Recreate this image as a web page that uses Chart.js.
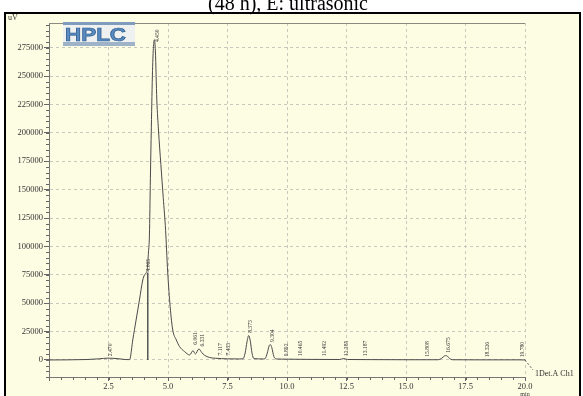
<!DOCTYPE html>
<html>
<head>
<meta charset="utf-8">
<script src="https://cdn.jsdelivr.net/npm/chart.js@4.4.1/dist/chart.umd.min.js"></script>
<style>
  html, body { margin: 0; padding: 0; background: #fff; }
  #wrap { width: 583px; height: 396px; }
</style>
</head>
<body>
<div id="wrap"><canvas id="chart" width="583" height="396"></canvas></div>
<script>
// ---- data (min, uV) ----
const times = [0, 0.8, 1.6, 2.1, 2.47, 2.9, 3.2, 3.36, 3.41, 3.52, 3.66, 3.80, 3.94, 4.01, 4.08, 4.13,
  4.18, 4.22, 4.26, 4.30, 4.35, 4.39, 4.43, 4.47, 4.53, 4.60, 4.70, 4.80, 4.90, 4.94, 4.99, 5.09,
  5.20, 5.35, 5.49, 5.70, 5.91, 6.05, 6.15, 6.30, 6.42, 6.53, 6.74, 7.0, 7.5, 8.0, 8.15, 8.24,
  8.32, 8.39, 8.46, 8.53, 8.61, 9.0, 9.08, 9.17, 9.25, 9.30, 9.36, 9.45, 9.55, 10.0, 11.0, 12.2,
  12.39, 12.55, 13.5, 15.0, 16.35, 16.5, 16.62, 16.70, 16.82, 16.95, 18.0, 19.78, 20.0];
const signal = [0, 100, 400, 1000, 1600, 1100, 400, 300, 1500, 17600, 35200, 52800, 70400, 74800, 76600, 80000,
  95000, 110000, 160000, 205000, 255000, 276000, 282000, 272000, 229000, 202500, 172000, 143000, 114000, 97000, 76600, 47000,
  26400, 17600, 11700, 7300, 4400, 8200, 5300, 9700, 6500, 4200, 2200, 1500, 1000, 900, 1000, 6000,
  16000, 21500, 16500, 6000, 1200, 900, 1200, 6000, 12500, 13500, 11000, 3000, 900, 700, 500, 400,
  1200, 400, 300, 200, 200, 1500, 3600, 3800, 1500, 200, 100, 100, 0];

// peak split (drop) line at the shoulder
const splitTimes = [4.15, 4.15];
const splitValues = [0, 77000];

// axis ticks
const yTicks = [0, 25000, 50000, 75000, 100000, 125000, 150000, 175000, 200000, 225000, 250000, 275000];
const xTicks = [0, 2.5, 5.0, 7.5, 10.0, 12.5, 15.0, 17.5, 20.0];

// retention time labels
const peakTimes = [2.470, 4.065, 4.450, 6.061, 6.331, 7.117, 7.435, 8.373, 9.304, 9.892, 10.465,
  11.492, 12.385, 13.187, 15.808, 16.675, 18.326, 19.780];
const peakNames = ["2.470", "4.065", "4.450", "6.061", "6.331", "7.117", "7.435", "8.373", "9.304", "9.892", "10.465",
  "11.492", "12.385", "13.187", "15.808", "16.675", "18.326", "19.780"];
const peakLabelBase = [2500, 77000, 279000, 12500, 11000, 3000, 3000, 23000, 15000, 2500, 2500,
  2500, 2500, 2500, 2000, 5500, 1500, 1500];

const serif = '"Liberation Serif", "DejaVu Serif", serif';
const cream = "#fdfde4";

const decor = {
  id: "decor",
  beforeDraw(chart) {
    const ctx = chart.ctx;
    ctx.save();
    ctx.fillStyle = "#fff";
    ctx.fillRect(0, 0, 583, 396);
    ctx.fillStyle = cream;
    ctx.fillRect(5, 13, 575, 383);
    // title, top half cut away by the frame
    ctx.fillStyle = "#000";
    ctx.font = "20px " + serif;
    ctx.textAlign = "center";
    ctx.textBaseline = "alphabetic";
    ctx.fillText("(48 h), E: ultrasonic", 288, 10);
    ctx.restore();
  },
  afterDatasetsDraw(chart) {
    const ctx = chart.ctx, xs = chart.scales.x, ys = chart.scales.y, a = chart.chartArea;
    ctx.save();
    // minor ticks
    ctx.strokeStyle = "#666";
    ctx.lineWidth = 1;
    ctx.beginPath();
    for (let v = -15000; v <= 295000; v += 5000) {
      const y = Math.round(ys.getPixelForValue(v)) + 0.5;
      ctx.moveTo(a.left - 3, y); ctx.lineTo(a.left, y);
    }
    for (let t = 0.5; t < 20; t += 0.5) {
      const x = Math.round(xs.getPixelForValue(t)) + 0.5;
      ctx.moveTo(x, a.bottom); ctx.lineTo(x, a.bottom + 3);
    }
    ctx.stroke();
    // retention time labels
    ctx.fillStyle = "#333";
    ctx.font = "7px " + serif;
    ctx.textAlign = "left";
    ctx.textBaseline = "middle";
    peakTimes.forEach((t, i) => {
      const x = xs.getPixelForValue(t) + 2;
      const y = ys.getPixelForValue(peakLabelBase[i]) - 1;
      ctx.save();
      ctx.translate(x, y);
      ctx.rotate(-Math.PI / 2);
      ctx.scale(0.8, 1);
      ctx.fillText(peakNames[i], 0, 0);
      ctx.restore();
    });
    ctx.restore();
  },
  afterDraw(chart) {
    const ctx = chart.ctx, xs = chart.scales.x, ys = chart.scales.y, a = chart.chartArea;
    ctx.save();
    // top edge of plot
    ctx.strokeStyle = "#8a8a80";
    ctx.lineWidth = 1;
    ctx.beginPath();
    ctx.moveTo(a.left, a.top + 0.5); ctx.lineTo(a.right, a.top + 0.5);
    ctx.stroke();
    // outer black frame
    ctx.strokeStyle = "#000";
    ctx.lineWidth = 2;
    ctx.strokeRect(5, 13, 575, 390);
    // axis unit
    ctx.fillStyle = "#333";
    ctx.font = "8px " + serif;
    ctx.textAlign = "left";
    ctx.textBaseline = "middle";
    ctx.fillText("uV", 8, 18);
    // min unit
    ctx.font = "6px " + serif;
    ctx.textAlign = "center";
    ctx.fillText("min", xs.getPixelForValue(20), 394);
    // detector legend with dashed leader
    const x0 = xs.getPixelForValue(20), y0 = ys.getPixelForValue(0);
    ctx.strokeStyle = "#555";
    ctx.lineWidth = 1;
    ctx.setLineDash([2, 2]);
    ctx.beginPath();
    ctx.moveTo(x0, y0); ctx.lineTo(x0 + 8, y0 + 10);
    ctx.stroke();
    ctx.setLineDash([]);
    ctx.font = "8px " + serif;
    ctx.textAlign = "left";
    ctx.fillText("1Det.A Ch1", x0 + 10, y0 + 14);
    // HPLC logo
    ctx.fillStyle = "#eef1f0";
    ctx.fillRect(63, 22, 72, 24);
    ctx.fillStyle = "#7f9cbd";
    ctx.fillRect(63, 22, 72, 3);
    ctx.fillStyle = "#9fb3c8";
    ctx.fillRect(63, 42, 72, 4);
    ctx.save();
    ctx.translate(65, 41);
    ctx.scale(1.18, 1);
    ctx.font = "bold 19px \"Liberation Sans\", Arial, sans-serif";
    ctx.textAlign = "left";
    ctx.textBaseline = "alphabetic";
    ctx.fillStyle = "#5a8cc2";
    ctx.fillText("HPLC", 0, 0);
    ctx.strokeStyle = "#2e5b8c";
    ctx.lineWidth = 0.7;
    ctx.strokeText("HPLC", 0, 0);
    ctx.restore();
    ctx.restore();
  }
};

const traceData = times.map((t, i) => ({ x: t, y: signal[i] }));
const splitData = splitTimes.map((t, i) => ({ x: t, y: splitValues[i] }));

new Chart(document.getElementById("chart"), {
  type: "line",
  data: {
    datasets: [
      { data: traceData, borderColor: "#4a4a4a", borderWidth: 1, pointRadius: 0, cubicInterpolationMode: "monotone" },
      { data: splitData, borderColor: "#555", borderWidth: 1.5, pointRadius: 0 }
    ]
  },
  options: {
    responsive: false,
    animation: false,
    events: [],
    layout: { padding: { left: 0, top: 23, right: 58, bottom: 0 } },
    plugins: { legend: { display: false }, tooltip: { enabled: false } },
    scales: {
      x: {
        type: "linear",
        min: 0,
        max: 20,
        afterFit: s => { s.height = 19; },
        afterBuildTicks: s => { s.ticks = xTicks.map(v => ({ value: v })); },
        ticks: {
          padding: 1,
          color: "#333",
          font: { family: serif, size: 8.5 },
          maxRotation: 0,
          autoSkip: false,
          callback: v => (v === 0 ? "" : Number(v).toFixed(1))
        },
        grid: { color: "#c8c8bd", tickColor: "#666", tickLength: 4 },
        border: { color: "#777", dash: [3, 3] }
      },
      y: {
        min: -15000,
        max: 296700,
        afterFit: s => { s.width = 49; },
        afterBuildTicks: s => { s.ticks = yTicks.map(v => ({ value: v })); },
        ticks: {
          padding: 1,
          color: "#333",
          autoSkip: false,
          font: { family: serif, size: 8.5 },
          callback: v => String(v)
        },
        grid: { color: "#c8c8bd", tickColor: "#666", tickLength: 5 },
        border: { color: "#777", dash: [3, 3] }
      }
    }
  },
  plugins: [decor]
});
</script>
</body>
</html>
